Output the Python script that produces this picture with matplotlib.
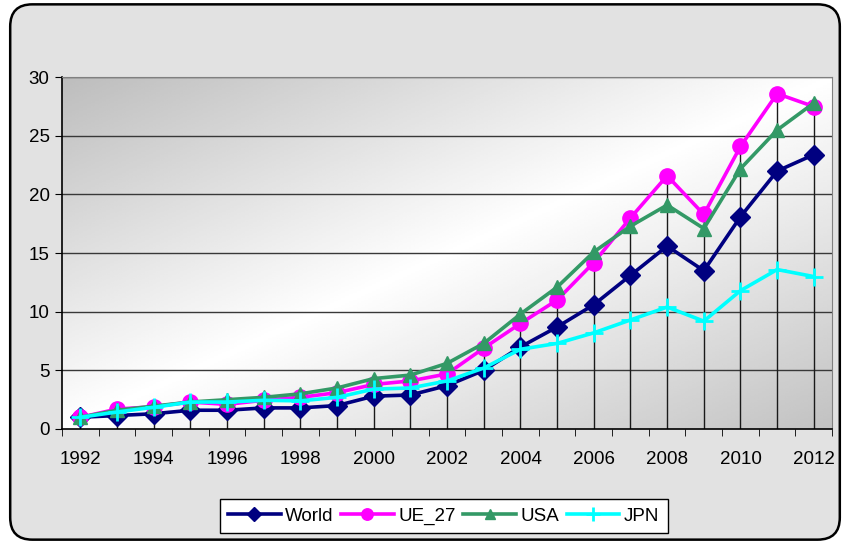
import numpy as np
import matplotlib
matplotlib.use("Agg")
import matplotlib.pyplot as plt
from matplotlib.patches import FancyBboxPatch

plt.rcParams['font.family'] = ['Liberation Sans', 'DejaVu Sans']

years = list(range(1992, 2013))
world = [1.0, 1.15, 1.3, 1.6, 1.6, 1.8, 1.8, 2.0, 2.8, 2.9, 3.7, 5.0, 7.0, 8.7, 10.6,
         13.1, 15.6, 13.5, 18.1, 22.0, 23.4]
ue27 = [1.0, 1.7, 1.9, 2.3, 2.1, 2.45, 2.7, 3.1, 3.8, 4.1, 4.7, 6.9, 9.0, 11.0, 14.2,
        18.0, 21.6, 18.3, 24.1, 28.6, 27.5]
usa = [1.0, 1.6, 1.95, 2.3, 2.5, 2.7, 3.0, 3.5, 4.3, 4.6, 5.6, 7.3, 9.8, 12.1, 15.1,
       17.3, 19.1, 17.1, 22.2, 25.5, 27.8]
jpn = [1.0, 1.45, 1.85, 2.3, 2.3, 2.45, 2.4, 2.7, 3.4, 3.5, 4.1, 5.2, 6.8, 7.3, 8.2,
       9.3, 10.4, 9.2, 11.8, 13.6, 13.0]

series = [
    ("World", world, "#000080", "D", 10),
    ("UE_27", ue27, "#ff00ff", "o", 11),
    ("USA", usa, "#339966", "^", 10),
    ("JPN", jpn, "#00ffff", "+", 13),
]

fig = plt.figure(figsize=(8.5, 5.44), dpi=100)
fig.patch.set_facecolor("white")

# rounded chart frame (behind everything)
frame = FancyBboxPatch((0.012, 0.008), 0.976, 0.984,
                       boxstyle="round,pad=0,rounding_size=0.026",
                       transform=fig.transFigure, facecolor="#e2e2e2",
                       edgecolor="black", lw=1.8, mutation_aspect=850 / 544,
                       zorder=-10)
fig.patches.append(frame)

ax = fig.add_axes([0.073, 0.2114, 0.906, 0.6466])

# gradient fill of plot area: gray top-left -> white -> gray bottom-right
gx, gy = np.meshgrid(np.linspace(0, 1, 200), np.linspace(0, 1, 200))
t = (gx + gy) / 2  # row 0 is the top (origin='upper')
shade = np.where(t < 0.5, 0.74 + 0.26 * (t / 0.5), 1.0 - 0.24 * ((t - 0.5) / 0.5))
ax.imshow(shade, cmap="gray", vmin=0, vmax=1, extent=[0, 1, 0, 1],
          transform=ax.transAxes, aspect="auto", zorder=0, interpolation="bilinear")

ax.set_xlim(1991.5, 2012.5)
ax.set_ylim(0, 30)

for y in range(5, 31, 5):
    ax.axhline(y, color="#383838", lw=1.0, zorder=1)

tops = [max(vals) for vals in zip(world, ue27, usa, jpn)]
ax.vlines(years, 0, tops, color="#1a1a1a", lw=1.0, zorder=2)

for name, vals, color, marker, ms in series:
    mew = 2 if marker == "+" else 1
    ax.plot(years, vals, color=color, lw=2.6, marker=marker, markersize=ms,
            markeredgewidth=mew, markerfacecolor=color, markeredgecolor=color,
            label=name, zorder=3)

ax.set_yticks(range(0, 31, 5))
ax.set_xticks(years[::2])
ax.set_xticks(np.arange(1991.5, 2013, 1), minor=True)
ax.tick_params(axis="x", which="major", length=0, pad=16, labelsize=13.5)
ax.tick_params(axis="x", which="minor", length=5, direction="out", color="black")
ax.tick_params(axis="y", length=5, direction="out", labelsize=13.5, pad=4)

for s in ["top", "right"]:
    ax.spines[s].set_color("#808080")
for s in ["left", "bottom"]:
    ax.spines[s].set_color("black")
    ax.spines[s].set_linewidth(1.2)

leg = fig.legend(loc="center", bbox_to_anchor=(0.522, 0.051), ncol=4, fontsize=13.5,
                 frameon=True, fancybox=False, edgecolor="black", framealpha=1,
                 handlelength=2.8, handletextpad=0.25, columnspacing=0.4,
                 borderpad=0.45, markerscale=0.75)
leg.get_frame().set_linewidth(1.0)

fig.savefig("out.png", dpi=100)
